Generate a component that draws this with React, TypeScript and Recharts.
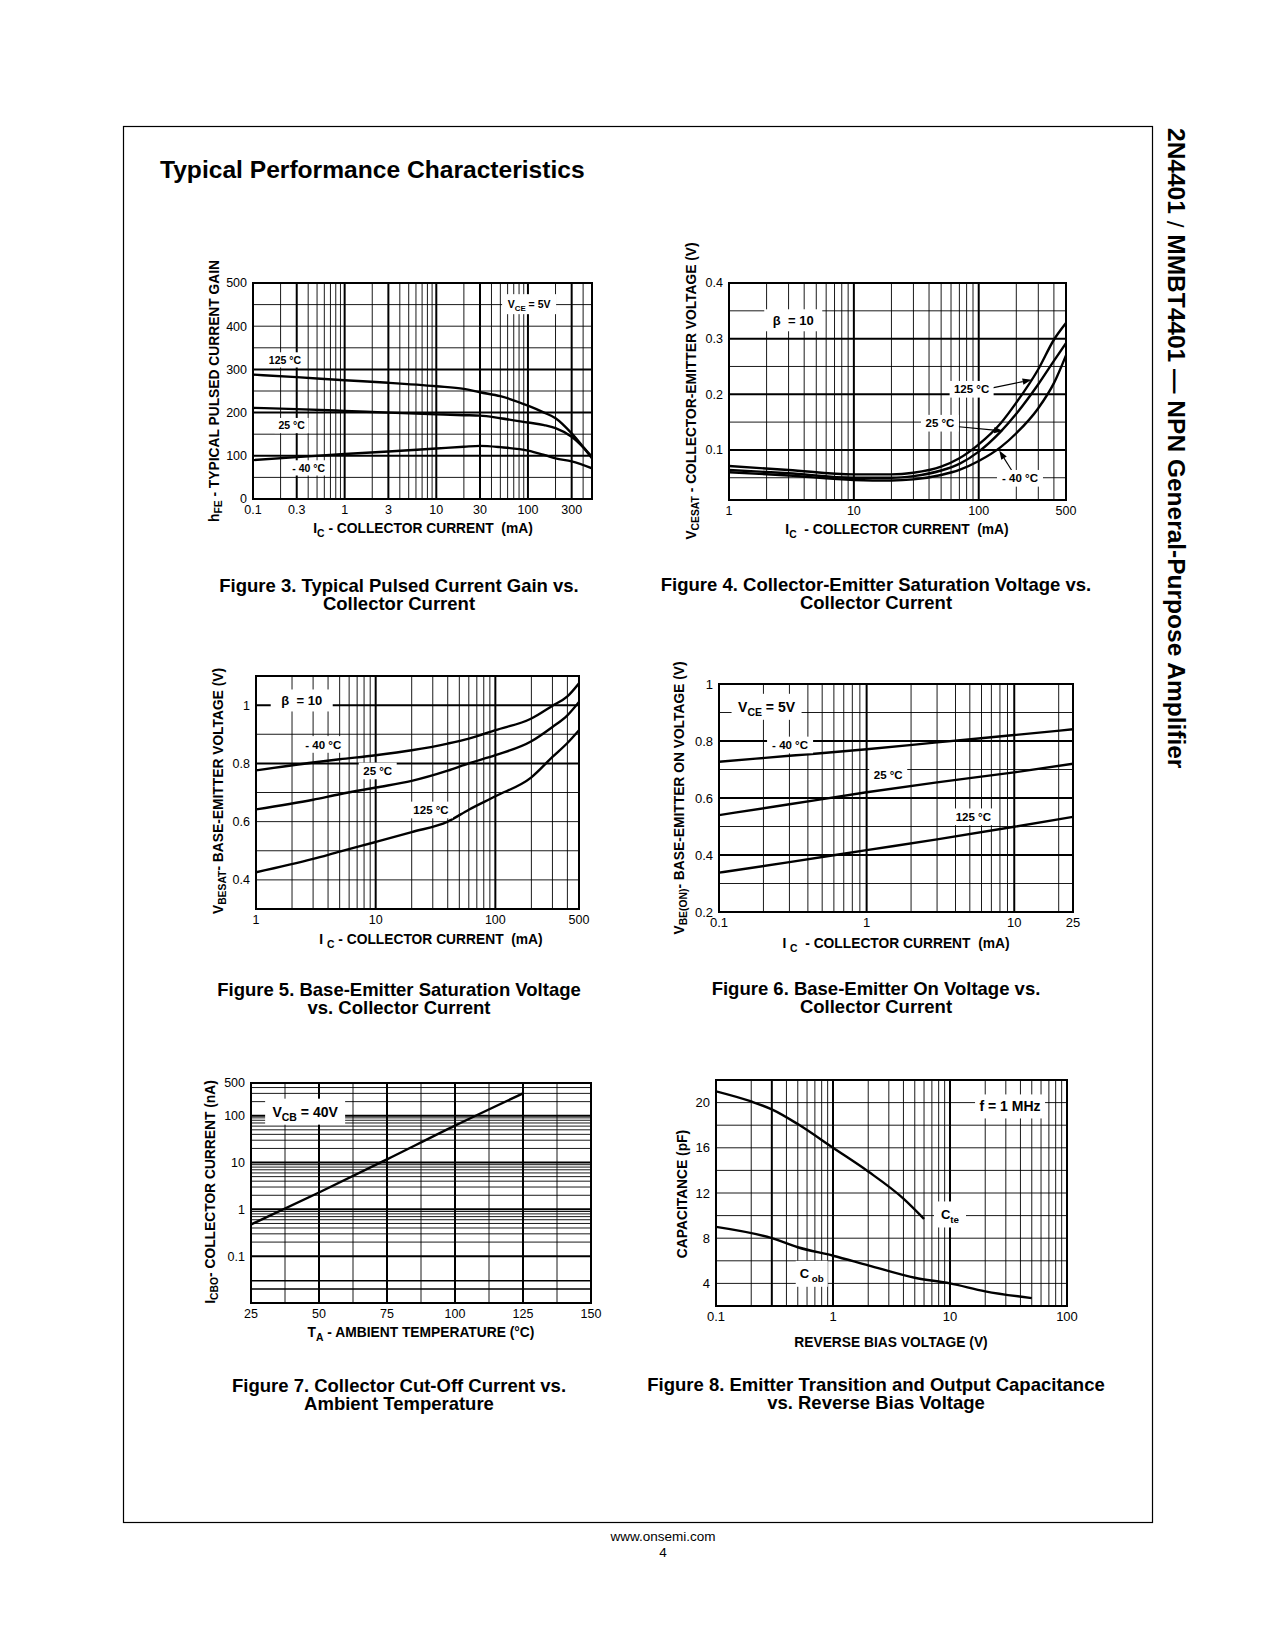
import React from 'react';
import { LineChart, Line, XAxis, YAxis, ReferenceLine, ReferenceArea, ReferenceDot } from 'recharts';

const FONT = '"Liberation Sans", Arial, Helvetica, sans-serif';

// ---------- Figure 3: hFE vs IC ----------
const fig3Current = [0.1, 0.3, 1, 3, 10, 20, 30, 50, 100, 150, 200, 300, 500];
const fig3Gain125C = [288, 282, 275, 269, 261, 255, 247, 238, 216, 200, 187, 152, 94];
const fig3Gain25C = [211, 208, 204, 200, 196, 194, 193, 187, 177, 171, 164, 144, 98];
const fig3GainM40C = [90, 97, 104, 110, 117, 121, 123, 120, 112, 102, 94, 87, 71];
const fig3XTicks = [0.1, 0.3, 1, 3, 10, 30, 100, 300];
const fig3YTicks = [0, 100, 200, 300, 400, 500];

// ---------- Figure 4: VCEsat vs IC ----------
const fig4Current = [1, 3, 10, 20, 30, 50, 70, 100, 150, 200, 300, 400, 500];
const fig4Vce125C = [0.071, 0.064, 0.056, 0.056, 0.059, 0.07, 0.085, 0.11, 0.148, 0.185, 0.245, 0.298, 0.328];
const fig4Vce25C = [0.064, 0.058, 0.05, 0.05, 0.053, 0.063, 0.075, 0.097, 0.133, 0.165, 0.218, 0.26, 0.292];
const fig4VceM40C = [0.06, 0.054, 0.046, 0.045, 0.047, 0.055, 0.064, 0.08, 0.105, 0.13, 0.175, 0.22, 0.27];
const fig4XTicks = [1, 10, 100, 500];
const fig4YTicks = [0.1, 0.2, 0.3, 0.4];

// ---------- Figure 5: VBEsat vs IC ----------
const fig5Current = [1, 3, 5, 10, 20, 40, 60, 100, 200, 300, 400, 500];
const fig5VbeM40C = [0.776, 0.803, 0.814, 0.828, 0.845, 0.868, 0.885, 0.914, 0.954, 0.998, 1.03, 1.075];
const fig5Vbe25C = [0.642, 0.675, 0.694, 0.717, 0.74, 0.775, 0.8, 0.828, 0.876, 0.925, 0.965, 1.011];
const fig5Vbe125C = [0.426, 0.472, 0.497, 0.53, 0.564, 0.6, 0.641, 0.687, 0.752, 0.822, 0.87, 0.914];
const fig5XTicks = [1, 10, 100, 500];
const fig5YTicks = [0.4, 0.6, 0.8, 1];

// ---------- Figure 6: VBE(on) vs IC ----------
const fig6Current = [0.1, 0.3, 1, 3, 10, 25];
const fig6VbeM40C = [0.727, 0.748, 0.771, 0.795, 0.821, 0.841];
const fig6Vbe25C = [0.54, 0.578, 0.62, 0.655, 0.69, 0.72];
const fig6Vbe125C = [0.338, 0.375, 0.417, 0.455, 0.499, 0.534];
const fig6XTicks = [0.1, 1, 10, 25];
const fig6YTicks = [0.2, 0.4, 0.6, 0.8, 1];

// ---------- Figure 7: ICBO vs TA ----------
const fig7Temp = [25, 50, 75, 100, 125];
const fig7Icbo = [0.474, 2.29, 11.7, 61.4, 300];
const fig7XTicks = [25, 50, 75, 100, 125, 150];
const fig7YTicks = [0.1, 1, 10, 100, 500];

// ---------- Figure 8: Capacitance vs reverse bias ----------
const fig8CteVolt = [0.1, 0.2, 0.3, 0.5, 1, 2, 4, 6];
const fig8Cte = [21.0, 20.1, 19.4, 18.1, 16.0, 13.9, 11.5, 9.7];
const fig8CobVolt = [0.1, 0.3, 0.5, 1, 2, 5, 10, 20, 50];
const fig8Cob = [9.0, 8.0, 7.2, 6.45, 5.6, 4.5, 4.0, 3.3, 2.7];
const fig8XTicks = [0.1, 1, 10, 100];
const fig8YTicks = [4, 8, 12, 16, 20];

// ---------- helpers ----------
type Pt = { x: number; y: number };
type Part = string | { sub: string };
const pts = (xs: number[], ys: number[]): Pt[] => xs.map((x, i) => ({ x, y: ys[i] }));
const logMinors = (decades: number[], maxVal = Infinity, skip: number[] = []) =>
  decades.flatMap((d) => [2, 3, 4, 5, 6, 7, 8, 9].map((k) => +(k * d).toPrecision(3))).filter((v) => v < maxVal && !skip.includes(v));

function rich(parts: Part[], fs: number) {
  let shifted = false;
  return parts.map((p, i) => {
    if (typeof p === 'string') {
      const el = (
        <tspan key={i} dy={shifted ? -fs * 0.3 : undefined}>
          {p}
        </tspan>
      );
      shifted = false;
      return el;
    }
    shifted = true;
    return (
      <tspan key={i} fontSize={fs * 0.75} dy={fs * 0.3}>
        {p.sub}
      </tspan>
    );
  });
}

function boxLabel(parts: Part[], fs: number, boxW: number, boxH?: number) {
  return (props: any) => {
    const { cx, cy } = props;
    const bh = boxH ?? fs * 1.45;
    return (
      <g>
        <rect x={cx - boxW / 2} y={cy - bh / 2} width={boxW} height={bh} fill="#fff" />
        <text
          x={cx}
          y={cy + fs * 0.36}
          textAnchor="middle"
          fontFamily={FONT}
          fontWeight="bold"
          fontSize={fs}
          fill="#000"
          style={{ whiteSpace: 'pre' }}
        >
          {rich(parts, fs)}
        </text>
      </g>
    );
  };
}

const arrowShape = (props: any) => {
  const { x1, y1, x2, y2 } = props;
  const a = Math.atan2(y2 - y1, x2 - x1);
  const len = 9;
  const hw = 3.2;
  const bx = x2 - len * Math.cos(a);
  const by = y2 - len * Math.sin(a);
  const px = -Math.sin(a) * hw;
  const py = Math.cos(a) * hw;
  return (
    <g>
      <line x1={x1} y1={y1} x2={bx} y2={by} stroke="#000" strokeWidth={1.1} />
      <polygon points={`${x2},${y2} ${bx + px},${by + py} ${bx - px},${by - py}`} fill="#000" />
    </g>
  );
};

type PlotProps = {
  rect: [number, number, number, number];
  xDomain: [number, number];
  yDomain: [number, number];
  xLog?: boolean;
  yLog?: boolean;
  xTicks: number[];
  yTicks: number[];
  xThin: number[];
  xBold: number[];
  yThin: number[];
  yBold: number[];
  yMid?: number[];
  series: Pt[][];
  extras?: React.ReactNode[];
  tickSize?: number;
};

function Plot(p: PlotProps) {
  const [L, T, R, B] = p.rect;
  const ml = 50;
  const mt = 8;
  const mr = 24;
  const xh = 30;
  const w = R - L + ml + mr;
  const h = B - T + mt + xh;
  const tick = { fill: '#000', fontSize: p.tickSize ?? 12.5, fontFamily: FONT };
  return (
    <div style={{ position: 'absolute', left: L - ml, top: T - mt, width: w, height: h }}>
      <LineChart width={w} height={h} margin={{ top: mt, right: mr, left: 0, bottom: 0 }}>
        <XAxis
          dataKey="x"
          type="number"
          scale={p.xLog ? 'log' : 'linear'}
          domain={p.xDomain}
          ticks={p.xTicks}
          interval={0}
          allowDataOverflow
          tickLine={false}
          axisLine={false}
          height={xh}
          tick={tick}
          tickMargin={0}
        />
        <YAxis
          type="number"
          scale={p.yLog ? 'log' : 'linear'}
          domain={p.yDomain}
          ticks={p.yTicks}
          interval={0}
          allowDataOverflow
          tickLine={false}
          axisLine={false}
          width={ml}
          tick={tick}
          tickMargin={0}
        />
        {p.xThin.map((v) => (
          <ReferenceLine key={'xt' + v} x={v} stroke="#000" strokeWidth={0.9} />
        ))}
        {p.yThin.map((v) => (
          <ReferenceLine key={'yt' + v} y={v} stroke="#000" strokeWidth={0.9} />
        ))}
        {(p.yMid || []).map((v) => (
          <ReferenceLine key={'ym' + v} y={v} stroke="#000" strokeWidth={1.5} />
        ))}
        {p.xBold.map((v) => (
          <ReferenceLine key={'xb' + v} x={v} stroke="#000" strokeWidth={2} />
        ))}
        {p.yBold.map((v) => (
          <ReferenceLine key={'yb' + v} y={v} stroke="#000" strokeWidth={2} />
        ))}
        <ReferenceArea
          x1={p.xDomain[0]}
          x2={p.xDomain[1]}
          y1={p.yDomain[0]}
          y2={p.yDomain[1]}
          fill="none"
          fillOpacity={0}
          stroke="#000"
          strokeWidth={2}
          ifOverflow="visible"
        />
        {p.series.map((s, i) => (
          <Line
            key={'s' + i}
            data={s}
            dataKey="y"
            type="monotone"
            stroke="#000"
            strokeWidth={2.4}
            dot={false}
            activeDot={false}
            isAnimationActive={false}
          />
        ))}
        {p.extras}
      </LineChart>
    </div>
  );
}

const dot = (key: string, x: number, y: number, shape: any) => (
  <ReferenceDot key={key} x={x} y={y} r={1} fill="none" stroke="none" shape={shape} ifOverflow="visible" />
);
const arrow = (key: string, x1: number, y1: number, x2: number, y2: number) => (
  <ReferenceLine
    key={key}
    segment={[
      { x: x1, y: y1 },
      { x: x2, y: y2 },
    ]}
    shape={arrowShape}
    ifOverflow="visible"
  />
);

// ---------- page text ----------
const TITLE_FS = 13.8;
function AxisTitleY({ cx, cy, parts, fs = TITLE_FS }: { cx: number; cy: number; parts: Part[]; fs?: number }) {
  return (
    <text
      x={cx}
      y={cy}
      transform={`rotate(-90 ${cx} ${cy})`}
      textAnchor="middle"
      dominantBaseline="central"
      fontFamily={FONT}
      fontWeight="bold"
      fontSize={fs}
      fill="#000"
      style={{ whiteSpace: 'pre' }}
    >
      {rich(parts, fs)}
    </text>
  );
}
function AxisTitleX({ cx, y, parts, fs = TITLE_FS }: { cx: number; y: number; parts: Part[]; fs?: number }) {
  return (
    <text x={cx} y={y} textAnchor="middle" fontFamily={FONT} fontWeight="bold" fontSize={fs} fill="#000" style={{ whiteSpace: 'pre' }}>
      {rich(parts, fs)}
    </text>
  );
}
function Caption({ cx, y, lines }: { cx: number; y: number; lines: string[] }) {
  return (
    <text textAnchor="middle" fontFamily={FONT} fontWeight="bold" fontSize={18.5} fill="#000">
      {lines.map((l, i) => (
        <tspan key={i} x={cx} y={y + i * 18}>
          {l}
        </tspan>
      ))}
    </text>
  );
}

export default function App() {
  return (
    <div style={{ position: 'absolute', left: 0, top: 0, width: 1275, height: 1650, background: '#fff', overflow: 'hidden' }}>
      <svg width={1275} height={1650} style={{ position: 'absolute', left: 0, top: 0 }}>
        <rect x={123.5} y={126.5} width={1029} height={1396} fill="none" stroke="#000" strokeWidth={1.2} />
        <text x={160} y={178} fontFamily={FONT} fontWeight="bold" fontSize={24.6} fill="#000">
          Typical Performance Characteristics
        </text>
        <text
          x={1176}
          y={128}
          transform="rotate(90 1176 128)"
          dominantBaseline="central"
          fontFamily={FONT}
          fontWeight="bold"
          fontSize={24.5}
          fill="#000"
          style={{ whiteSpace: 'pre' }}
        >
          2N4401<tspan fontWeight="normal"> / </tspan>MMBT4401 — NPN General-Purpose Amplifier
        </text>
        <text x={663} y={1541} textAnchor="middle" fontFamily={FONT} fontSize={13.5} fill="#000">
          www.onsemi.com
        </text>
        <text x={663} y={1557} textAnchor="middle" fontFamily={FONT} fontSize={13.5} fill="#000">
          4
        </text>

        <AxisTitleY cx={214} cy={391} parts={['h', { sub: 'FE' }, ' - TYPICAL PULSED CURRENT GAIN']} />
        <AxisTitleX cx={423} y={533} parts={['I', { sub: 'C' }, ' - COLLECTOR CURRENT  (mA)']} />
        <AxisTitleY cx={691} cy={391} parts={['V', { sub: 'CESAT' }, ' - COLLECTOR-EMITTER VOLTAGE (V)']} />
        <AxisTitleX cx={897} y={534} parts={['I', { sub: 'C' }, '  - COLLECTOR CURRENT  (mA)']} />
        <AxisTitleY cx={218} cy={791} parts={['V', { sub: 'BESAT' }, '- BASE-EMITTER VOLTAGE (V)']} />
        <AxisTitleX cx={431} y={944} parts={['I ', { sub: 'C' }, ' - COLLECTOR CURRENT  (mA)']} />
        <AxisTitleY cx={679} cy={798} parts={['V', { sub: 'BE(ON)' }, '- BASE-EMITTER ON VOLTAGE (V)']} />
        <AxisTitleX cx={896} y={948} parts={['I ', { sub: 'C' }, '  - COLLECTOR CURRENT  (mA)']} />
        <AxisTitleY cx={210} cy={1192} parts={['I', { sub: 'CBO' }, '- COLLECTOR CURRENT (nA)']} />
        <AxisTitleX cx={421} y={1337} parts={['T', { sub: 'A' }, ' - AMBIENT TEMPERATURE (°C)']} />
        <AxisTitleY cx={682} cy={1194} parts={['CAPACITANCE (pF)']} />
        <AxisTitleX cx={891} y={1347} parts={['REVERSE BIAS VOLTAGE (V)']} />

        <Caption cx={399} y={592} lines={['Figure 3. Typical Pulsed Current Gain vs.', 'Collector Current']} />
        <Caption cx={876} y={591} lines={['Figure 4. Collector-Emitter Saturation Voltage vs.', 'Collector Current']} />
        <Caption cx={399} y={996} lines={['Figure 5. Base-Emitter Saturation Voltage', 'vs. Collector Current']} />
        <Caption cx={876} y={995} lines={['Figure 6. Base-Emitter On Voltage vs.', 'Collector Current']} />
        <Caption cx={399} y={1392} lines={['Figure 7. Collector Cut-Off Current vs.', 'Ambient Temperature']} />
        <Caption cx={876} y={1391} lines={['Figure 8. Emitter Transition and Output Capacitance', 'vs. Reverse Bias Voltage']} />
      </svg>

      {/* Figure 3 */}
      <Plot
        rect={[253, 283, 592, 499]}
        xDomain={[0.1, 500]}
        yDomain={[0, 500]}
        xLog
        xTicks={fig3XTicks}
        yTicks={fig3YTicks}
        xThin={logMinors([0.1, 1, 10, 100], 500, [0.3, 3, 30, 300])}
        xBold={[0.3, 1, 3, 10, 30, 100, 300]}
        yThin={[50, 150, 250, 350, 400, 450]}
        yBold={[100, 200, 300]}
        series={[pts(fig3Current, fig3Gain125C), pts(fig3Current, fig3Gain25C), pts(fig3Current, fig3GainM40C)]}
        extras={[
          dot('l1', 0.223, 322, boxLabel(['125 °C'], 10.5, 40)),
          dot('l2', 0.264, 170, boxLabel(['25 °C'], 10.5, 34)),
          dot('l3', 0.406, 72, boxLabel(['- 40 °C'], 10.5, 42)),
          dot('l4', 103, 451, boxLabel(['V', { sub: 'CE' }, ' = 5V'], 10.5, 54, 20)),
        ]}
      />

      {/* Figure 4 */}
      <Plot
        rect={[729, 283, 1066, 500]}
        xDomain={[1, 500]}
        yDomain={[0.01, 0.4]}
        xLog
        xTicks={fig4XTicks}
        yTicks={fig4YTicks}
        xThin={logMinors([1, 10, 100], 500)}
        xBold={[10, 100]}
        yThin={[0.05, 0.15, 0.25, 0.35]}
        yBold={[0.1, 0.2, 0.3]}
        series={[pts(fig4Current, fig4Vce125C), pts(fig4Current, fig4Vce25C), pts(fig4Current, fig4VceM40C)]}
        extras={[
          arrow('a1', 126, 0.211, 265, 0.226),
          arrow('a2', 66, 0.142, 157, 0.134),
          arrow('a3', 190, 0.058, 146, 0.099),
          dot('l1', 3.27, 0.333, boxLabel(['β  = 10'], 13, 58, 22)),
          dot('l2', 87.7, 0.209, boxLabel(['125 °C'], 11.5, 44)),
          dot('l3', 48.9, 0.148, boxLabel(['25 °C'], 11.5, 38)),
          dot('l4', 214, 0.049, boxLabel(['- 40 °C'], 11.5, 46)),
        ]}
      />

      {/* Figure 5 */}
      <Plot
        rect={[256, 676, 579, 909]}
        xDomain={[1, 500]}
        yDomain={[0.3, 1.1]}
        xLog
        xTicks={fig5XTicks}
        yTicks={fig5YTicks}
        xThin={logMinors([1, 10, 100], 500)}
        xBold={[10, 100]}
        yThin={[0.4, 0.5, 0.6, 0.7, 0.9]}
        yBold={[0.8, 1]}
        series={[pts(fig5Current, fig5VbeM40C), pts(fig5Current, fig5Vbe25C), pts(fig5Current, fig5Vbe125C)]}
        extras={[
          dot('l1', 2.41, 1.016, boxLabel(['β  = 10'], 13, 62, 22)),
          dot('l2', 3.65, 0.865, boxLabel(['- 40 °C'], 11.5, 46)),
          dot('l3', 10.4, 0.774, boxLabel(['25 °C'], 11.5, 38)),
          dot('l4', 29.0, 0.64, boxLabel(['125 °C'], 11.5, 44)),
        ]}
      />

      {/* Figure 6 */}
      <Plot
        rect={[719, 684, 1073, 912]}
        xDomain={[0.1, 25]}
        yDomain={[0.2, 1]}
        xLog
        tickSize={13}
        xTicks={fig6XTicks}
        yTicks={fig6YTicks}
        xThin={logMinors([0.1, 1, 10], 25)}
        xBold={[1, 10]}
        yThin={[0.3, 0.5, 0.7, 0.9]}
        yBold={[0.4, 0.6, 0.8]}
        series={[pts(fig6Current, fig6VbeM40C), pts(fig6Current, fig6Vbe25C), pts(fig6Current, fig6Vbe125C)]}
        extras={[
          dot('l1', 0.21, 0.92, boxLabel(['V', { sub: 'CE' }, ' = 5V'], 14, 70, 26)),
          dot('l2', 0.303, 0.786, boxLabel(['- 40 °C'], 11.5, 46)),
          dot('l3', 1.4, 0.68, boxLabel(['25 °C'], 11.5, 38)),
          dot('l4', 5.28, 0.534, boxLabel(['125 °C'], 11.5, 44)),
        ]}
      />

      {/* Figure 7 */}
      <Plot
        rect={[251, 1083, 591, 1303]}
        xDomain={[25, 150]}
        yDomain={[0.01, 500]}
        yLog
        xTicks={fig7XTicks}
        yTicks={fig7YTicks}
        xThin={[37.5, 62.5, 87.5, 112.5, 137.5]}
        xBold={[50, 75, 100, 125]}
        yThin={logMinors([0.1, 1, 10, 100], 500)}
        yMid={[0.02, 0.03]}
        yBold={[0.1, 1, 10, 100]}
        series={[pts(fig7Temp, fig7Icbo)]}
        extras={[dot('l1', 44.9, 122, boxLabel(['V', { sub: 'CB' }, ' = 40V'], 14, 80, 26))]}
      />

      {/* Figure 8 */}
      <Plot
        rect={[716, 1080, 1067, 1306]}
        xDomain={[0.1, 100]}
        yDomain={[2, 22]}
        xLog
        tickSize={13}
        xTicks={fig8XTicks}
        yTicks={fig8YTicks}
        xThin={logMinors([0.1, 1, 10], 100, [0.3])}
        xBold={[0.3, 1, 10]}
        yThin={[4, 6, 8, 10, 12, 14, 16, 18, 20]}
        yBold={[]}
        series={[pts(fig8CteVolt, fig8Cte), pts(fig8CobVolt, fig8Cob)]}
        extras={[
          dot('l1', 32.6, 19.66, boxLabel(['f = 1 MHz'], 14, 70, 24)),
          dot('l2', 10, 10.1, boxLabel(['C', { sub: 'te' }], 13, 32, 26)),
          dot('l3', 0.658, 4.85, boxLabel(['C', { sub: ' ob' }], 13, 32, 26)),
        ]}
      />
    </div>
  );
}
